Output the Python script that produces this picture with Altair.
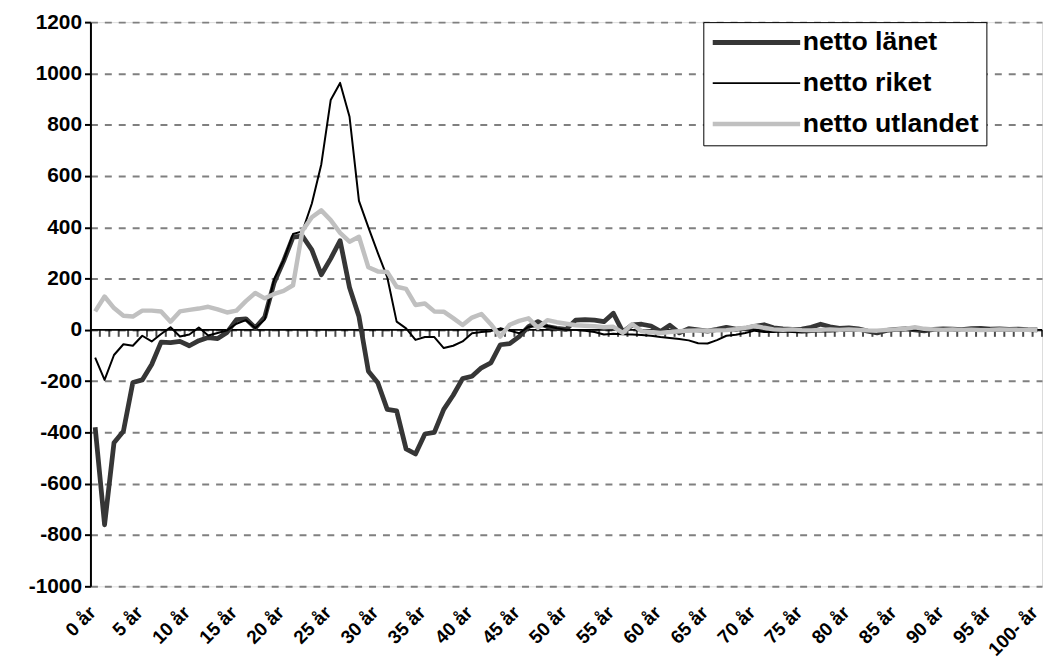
import json
import altair as alt
import pandas as pd

# ---- data -------------------------------------------------------------
ages = list(range(101))
series_names = ["netto länet", "netto riket", "netto utlandet"]
tick_ages = list(range(0, 101, 5))
tick_labels = [f"{a} år" for a in tick_ages[:-1]] + ["100- år"]
y_ticks = list(range(-1000, 1201, 200))

lanet = [
    -380, -760, -440, -395, -205, -195, -135, -48, -50, -45,
    -62, -42, -30, -34, -10, 40, 43, 8, 50, 185,
    268, 362, 366, 312, 215, 278, 348, 165, 52, -161,
    -206, -310, -316, -464, -484, -406, -400, -310, -255, -190,
    -181, -148, -129, -58, -54, -26, 13, 32, 13, 6,
    2, 38, 40, 38, 32, 65, -8, 19, 22, 15,
    -6, 18, -12, 5, 0, -5, 2, 10, 3, 5,
    14, 20, 8, 4, 2, 3, 10, 22, 12, 6,
    8, 4, -5, -12, -2, 2, 4, 0, -4, 2,
    4, 3, 1, 5, 6, 3, 4, 2, 3, 1,
    0,
]
riket = [
    -108, -195, -98, -56, -62, -23, -45, -16, 10, -26,
    -18, 9, -22, -12, -2, 24, 38, 7, 40, 198,
    271, 374, 384, 493, 645, 896, 963, 831, 503, 400,
    300, 206, 32, 6, -39, -28, -28, -71, -62, -45,
    -13, -8, -5, 6, -3, -13, 12, 14, 15, 6,
    0, 0, -3, -8, -18, -15, -17, -18, -20, -23,
    -28, -32, -36, -41, -52, -53, -40, -23, -19, -12,
    -3, -8, -8, -6, -8, -10, -8, -5, -6, -4,
    -3, -2, -3, -1, -2, 0, -1, 1, -2, 0,
    -1, 0, 1, -1, 0, 1, 0, -1, 0, 0,
    -2,
]
utlandet = [
    72, 130, 85, 55, 52, 75, 75, 72, 32, 72,
    78, 83, 90, 80, 68, 75, 112, 144, 123, 140,
    152, 174, 387, 439, 466, 428, 378, 344, 363, 244,
    228, 226, 168, 160, 97, 103, 72, 71, 46, 19,
    48, 62, 22, -26, 20, 35, 45, 8, 38, 30,
    24, 18, 16, 14, 10, 12, -12, 22, -5, -8,
    -12, -8, -5, -3, -2, -3, -2, -1, 3, 8,
    15, 8, 2, 0, 2, -1, -2, 0, 2, 0,
    2, 0, -2, -3, 0, 2, 4, 10, 4, 2,
    0, 2, 0, 1, -1, 0, 2, 1, 0, 1,
    0,
]

series_colors = ["#363636", "#000000", "#c0c0c0"]
series_widths = [4.8, 2, 4.5]

# ---- tables -----------------------------------------------------------
rows = []
for name, vals in zip(series_names, [lanet, riket, utlandet]):
    for a, v in zip(ages, vals):
        rows.append({"age": a, "serie": name, "value": v})
df = pd.DataFrame(rows)

bounds = pd.DataFrame({"b": [a + 0.5 for a in ages]})
zero = pd.DataFrame({"y": [0]})

label_expr = json.dumps(tick_labels, ensure_ascii=False) + "[round(datum.value / 5)]"

x_scale = alt.Scale(domain=[-0.5, 100.5], nice=False, zero=False)
y_scale = alt.Scale(domain=[-1000, 1200], nice=False)

leg = alt.Legend(
    title=None, orient="none", legendX=617, legendY=0,
    symbolType="M-1,0H7", symbolSize=484, labelOffset=66, labelLimit=400,
    rowPadding=13, padding=7, strokeColor="black", fillColor="white",
    labelFont="Liberation Sans", labelFontWeight="bold", labelFontSize=26.8,
    labelColor="black",
)

x_enc = alt.X(
    "age:Q", scale=x_scale, title=None,
    axis=alt.Axis(values=tick_ages, labelExpr=label_expr, labelAngle=-45,
                  labelAlign="right", labelBaseline="middle", labelPadding=23,
                  labelOffset=-3, labelOverlap=False, labelBound=False,
                  ticks=False, domain=False, grid=False,
                  labelFont="Liberation Sans", labelFontWeight="bold",
                  labelFontSize=19, labelColor="black"),
)
y_enc = alt.Y(
    "value:Q", scale=y_scale, title=None,
    axis=alt.Axis(values=y_ticks, labelExpr="'' + datum.value",
                  grid=True, gridDash=[7, 7], gridColor="#808080",
                  gridWidth=2, domain=True, domainColor="black", domainWidth=2,
                  ticks=True, tickSize=6, tickColor="black", tickWidth=2,
                  labelPadding=3, labelOverlap=False,
                  labelFont="Liberation Sans", labelFontWeight="bold",
                  labelFontSize=21, labelColor="black"),
)

zero_rule = alt.Chart(zero).mark_rule(color="black", strokeWidth=2).encode(
    y=alt.Y("y:Q", scale=y_scale)
)
cat_ticks = alt.Chart(bounds).mark_tick(
    orient="vertical", size=7, thickness=2, color="black", yOffset=3.5
).encode(x=alt.X("b:Q", scale=x_scale), y=alt.datum(0))

lines = alt.Chart(df).mark_line(strokeJoin="round").encode(
    x=x_enc,
    y=y_enc,
    color=alt.Color("serie:N", scale=alt.Scale(domain=series_names, range=series_colors), legend=leg),
    strokeWidth=alt.StrokeWidth("serie:N",
                                scale=alt.Scale(type="ordinal", domain=series_names, range=series_widths),
                                legend=leg),
    order=alt.Order("age:Q"),
)

chart = alt.layer(zero_rule, cat_ticks, lines).properties(
    width=958, height=568,
    padding={"left": 83, "top": 12, "right": 2, "bottom": 80},
    autosize="none",
).configure_view(stroke=None).configure_legend(strokeWidth=2).configure(font="Liberation Sans")

chart.save("out.html", embed_options={"renderer": "svg", "actions": False})
